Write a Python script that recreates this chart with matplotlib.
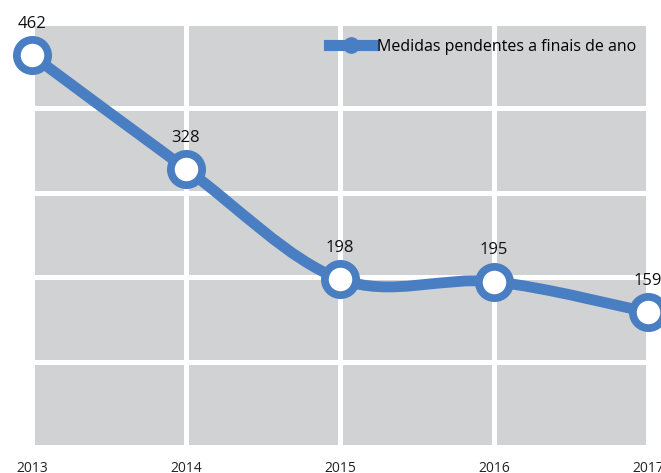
import matplotlib
matplotlib.use("Agg")
import matplotlib.pyplot as plt
from matplotlib.path import Path
from matplotlib.patches import PathPatch
from matplotlib.lines import Line2D

years = [2013, 2014, 2015, 2016, 2017]
values = [462, 328, 198, 195, 159]
series_name = "Medidas pendentes a finais de ano"

BLUE = "#4a7ec2"
GRAY = "#d1d2d4"

plt.rcParams['font.family'] = ['Open Sans', 'DejaVu Sans']

W, H = 661, 473
fig = plt.figure(figsize=(W / 100, H / 100), dpi=100)
ax = fig.add_axes([32 / W, 26 / H, (648 - 32) / W, (450 - 26) / H])
ax.set_facecolor(GRAY)
ax.set_xlim(years[0], years[-1])
ax.set_ylim(0, 500)
ax.set_xticks(years)
ax.set_yticks(range(0, 501, 100))
ax.set_yticklabels([])
ax.grid(True, color="white", linewidth=3.6)
ax.set_axisbelow(True)
for s in ax.spines.values():
    s.set_visible(False)
ax.tick_params(axis='both', length=0)
ax.tick_params(axis='x', pad=10, labelsize=10, colors="#222222")

# smoothed line (Catmull-Rom style Bezier like Excel smoothing)
pts = list(zip(years, values))
verts = [pts[0]]
codes = [Path.MOVETO]
n = len(pts)
for i in range(n - 1):
    p0 = pts[i - 1] if i > 0 else pts[i]
    p1 = pts[i]
    p2 = pts[i + 1]
    p3 = pts[i + 2] if i + 2 < n else pts[i + 1]
    c1 = (p1[0] + (p2[0] - p0[0]) / 6, p1[1] + (p2[1] - p0[1]) / 6)
    c2 = (p2[0] - (p3[0] - p1[0]) / 6, p2[1] - (p3[1] - p1[1]) / 6)
    verts += [c1, c2, p2]
    codes += [Path.CURVE4] * 3
patch = PathPatch(Path(verts, codes), facecolor="none", edgecolor=BLUE,
                  linewidth=7.8, clip_on=False, zorder=3, capstyle='butt')
ax.add_patch(patch)

ax.plot(years, values, linestyle="none", marker="o", markersize=22.5,
        markerfacecolor="white", markeredgecolor=BLUE, markeredgewidth=5.6,
        clip_on=False, zorder=4)

for x, v in zip(years, values):
    ax.annotate(str(v), (x, v), xytext=(0, 22.5), textcoords="offset points",
                ha="center", va="center", fontsize=12, color="#111111",
                annotation_clip=False, zorder=5)

handle = Line2D([], [], color=BLUE, linewidth=8, marker="o", markersize=11,
                markerfacecolor=BLUE, markeredgecolor=BLUE, markeredgewidth=1)
fig.legend([handle], [series_name], loc="center left",
           bbox_to_anchor=(329 / W, 1 - 47 / H), frameon=False,
           fontsize=11.5, handlelength=2.75, handletextpad=0.25, borderpad=0,
           borderaxespad=0)

fig.savefig("out.png", dpi=100)
